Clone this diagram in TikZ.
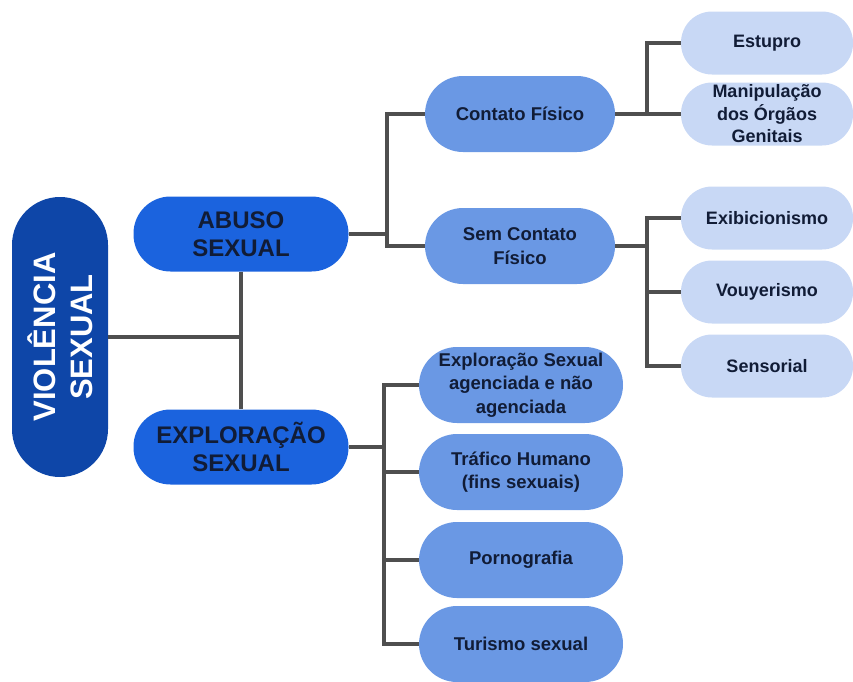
\documentclass[tikz,border=0pt]{standalone}
\usepackage{fontspec}
\setmainfont{Liberation Sans}
\definecolor{rootblue}{HTML}{0E46A8}
\definecolor{lvlone}{HTML}{1B63DE}
\definecolor{lvltwo}{HTML}{6A98E4}
\definecolor{lvlthree}{HTML}{C8D8F5}
\definecolor{txtnavy}{HTML}{111C36}
\definecolor{linegray}{HTML}{4F4F4F}
\tikzset{
  rootnode/.style={fill=rootblue, text=white, rotate=90, rounded corners=48pt,
    minimum width=280pt, minimum height=96pt, inner sep=0pt, align=center,
    font=\fontsize{31}{37}\selectfont\bfseries},
  onenode/.style={fill=lvlone, text=txtnavy, rounded corners=37pt,
    minimum width=215pt, minimum height=75pt, inner sep=0pt, align=center,
    font=\fontsize{24}{28}\selectfont\bfseries},
  twonode/.style={fill=lvltwo, text=txtnavy, rounded corners=38pt,
    minimum width=190pt, minimum height=76pt, inner sep=0pt, align=center,
    font=\fontsize{18.5}{23.5}\selectfont\bfseries},
  twowide/.style={twonode, minimum width=204pt},
  threenode/.style={fill=lvlthree, text=txtnavy, rounded corners=31pt,
    minimum width=172pt, minimum height=63pt, inner sep=0pt, align=center,
    font=\fontsize{18}{22.5}\selectfont\bfseries},
  conn/.style={draw=linegray, line width=3.2pt}
}
\begin{document}
\begin{tikzpicture}[x=1pt,y=-1pt]
\useasboundingbox (0,0) rectangle (853,681);
% nodes
\node[rootnode] (root) at (60,337) {VIOLÊNCIA\\SEXUAL};
\node[onenode] (abuso) at (241,234) {ABUSO\\SEXUAL};
\node[onenode] (explor) at (241,447) {EXPLORAÇÃO\\SEXUAL};
\node[twonode] (contato) at (520,114) {Contato Físico};
\node[twonode] (sem) at (520,246) {Sem Contato\\Físico};
\node[twowide] (explsex) at (521,385) {Exploração Sexual\\agenciada e não\\agenciada};
\node[twowide] (trafico) at (521,472) {Tráfico Humano\\(fins sexuais)};
\node[twowide] (porno) at (521,560) {Pornografia};
\node[twowide] (turismo) at (521,644) {Turismo sexual};
\node[threenode] (estupro) at (767,43) {Estupro};
\node[threenode] (manip) at (767,114) {Manipulação\\dos Órgãos\\Genitais};
\node[threenode] (exib) at (767,218) {Exibicionismo};
\node[threenode] (vouy) at (767,292) {Vouyerismo};
\node[threenode] (senso) at (767,366) {Sensorial};
% trunk coordinates
\coordinate (ta) at (387,0);
\coordinate (tc) at (647,0);
\coordinate (te) at (384,0);
% connectors
\draw[conn] (root.south) -- (root.south -| abuso.south);
\draw[conn] (abuso.south) -- (explor.north);
\draw[conn] (abuso.east) -- (abuso.east -| ta);
\draw[conn] (contato.west) -- (contato.west -| ta) -- (sem.west -| ta) -- (sem.west);
\draw[conn] (contato.east) -- (contato.east -| tc);
\draw[conn] (estupro.west) -- (estupro.west -| tc) -- (manip.west -| tc) -- (manip.west);
\draw[conn] (sem.east) -- (sem.east -| tc);
\draw[conn] (exib.west) -- (exib.west -| tc) -- (senso.west -| tc) -- (senso.west);
\draw[conn] (vouy.west) -- (vouy.west -| tc);
\draw[conn] (explor.east) -- (explor.east -| te);
\draw[conn] (explsex.west) -- (explsex.west -| te) -- (turismo.west -| te) -- (turismo.west);
\draw[conn] (trafico.west) -- (trafico.west -| te);
\draw[conn] (porno.west) -- (porno.west -| te);
\end{tikzpicture}
\end{document}
